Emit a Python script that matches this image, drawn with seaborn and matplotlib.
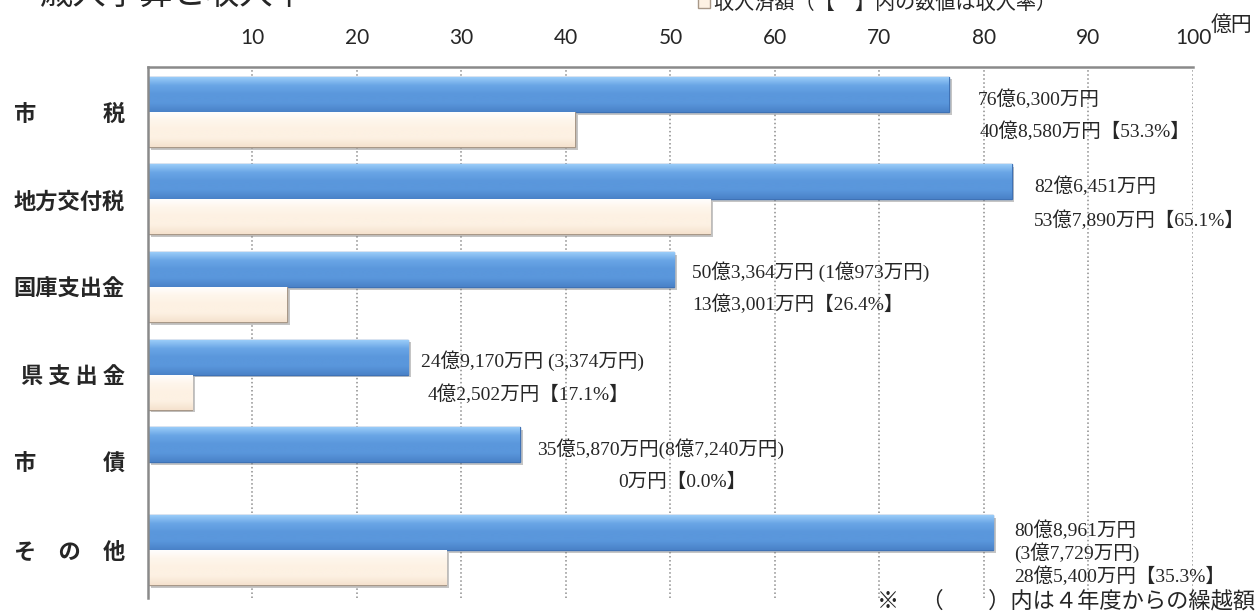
import matplotlib.pyplot as plt
from matplotlib.patches import Patch
from matplotlib.colors import LinearSegmentedColormap
import matplotlib.patheffects as pe
import seaborn as sns
import pandas as pd
import numpy as np

# 歳入予算と収入率（単位：億円）
categories = ["市　　　税", "地方交付税", "国庫支出金", "県 支 出 金", "市　　　債", "そ　の　他"]
budget = [76.63, 82.6451, 50.3364, 24.917, 35.587, 80.8961]
received = [40.858, 53.789, 13.3001, 4.2502, 0.0, 28.54]
series_names = ["予算額", "収入済額"]

budget_labels = ["76億6,300万円", "82億6,451万円", "50億3,364万円 (1億973万円)",
                 "24億9,170万円 (3,374万円)", "35億5,870万円(8億7,240万円)",
                 "80億8,961万円\n(3億7,729万円)"]
received_labels = ["40億8,580万円【53.3%】", "53億7,890万円【65.1%】", "13億3,001万円【26.4%】",
                   "4億2,502万円【17.1%】", "0万円【0.0%】", "28億5,400万円【35.3%】"]
x_ticks = [10, 20, 30, 40, 50, 60, 70, 80, 90, 100]

# label placement (x in 億円, y offset from category centre)
lab1_x = [79.4, 84.8, 52.1, 26.1, 37.2, 82.9]
lab1_dy = [-0.14, -0.15, -0.17, -0.16, -0.15, -0.09]
lab2_x = [79.6, 84.8, 52.1, 26.8, 45.0, 82.9]
lab2_dy = [0.22, 0.24, 0.20, 0.23, 0.23, 0.30]

blue = "#5A97DC"
cream = "#FDF1E3"
blue_grad = LinearSegmentedColormap.from_list("b", ["#9FD0FA", "#6AA6E6", "#5A97DC", "#5A97DC", "#4A82C8"])
cream_grad = LinearSegmentedColormap.from_list("c", ["#FFFFFF", "#FEF6EC", "#FDF1E3", "#FDF1E3", "#F5E2CE"])

df = pd.DataFrame({
    "category": categories * 2,
    "series": [series_names[0]] * 6 + [series_names[1]] * 6,
    "value": budget + received,
})

sns.set_style("white")
plt.rcParams["font.family"] = ["Noto Sans CJK JP", "DejaVu Sans"]
serif_cjk = ["Liberation Serif", "Noto Sans CJK JP"]

fig = plt.figure(figsize=(12.58, 6.15), dpi=100)
ax = fig.add_axes([0.1176, 0.0276, 0.8307, 0.8634])

sns.barplot(data=df, y="category", x="value", hue="series", orient="h",
            palette={series_names[0]: blue, series_names[1]: cream},
            width=0.8, saturation=1, legend=False, ax=ax)

n = len(categories)
grad = np.linspace(0, 1, 64).reshape(-1, 1)
for i, p in enumerate(list(ax.patches[:2 * n])):
    if p.get_width() == 0:
        p.set_linewidth(0)
        continue
    if i < n:
        p.set_edgecolor("#3F72B5")
        cmap = blue_grad
    else:
        p.set_edgecolor("#A89888")
        cmap = cream_grad
    p.set_linewidth(1.0)
    p.set_path_effects([pe.SimplePatchShadow(offset=(2, -2), shadow_rgbFace="#808080", alpha=0.45),
                        pe.Normal()])
    x0, y0, w, h = p.get_x(), p.get_y(), p.get_width(), p.get_height()
    im = ax.imshow(grad, extent=[x0, x0 + w, y0 + h, y0], aspect="auto",
                   cmap=cmap, zorder=p.get_zorder() + 0.1, interpolation="bilinear")
    im.set_clip_path(p)

for i in range(n):
    ax.text(lab1_x[i], i + lab1_dy[i], budget_labels[i], fontsize=14,
            family=serif_cjk, va="center", ha="left", linespacing=1.1)
    ax.text(lab2_x[i], i + lab2_dy[i], received_labels[i], fontsize=14,
            family=serif_cjk, va="center", ha="left")

ax.set_xlim(0, 100)
ax.set_ylim(5.55, -0.51)
ax.set_xticks(x_ticks)
ax.xaxis.tick_top()
ax.tick_params(axis="x", length=0, pad=14, labelsize=15)
ax.tick_params(axis="y", length=0, pad=16.5, labelsize=16)
for lbl in ax.get_xticklabels():
    lbl.set_family(["Lato", "DejaVu Sans"])
for lbl in ax.get_yticklabels():
    lbl.set_fontweight("bold")
ax.set_xlabel("")
ax.set_ylabel("")

ax.xaxis.grid(True, linestyle=":", color="#8C8C8C", linewidth=1.1)
ax.set_axisbelow(True)
for side in ["right", "bottom"]:
    ax.spines[side].set_visible(False)
for side in ["top", "left"]:
    ax.spines[side].set_color("#8A8A8A")
    ax.spines[side].set_linewidth(1.8)

fig.text(1211 / 1258, 1 - 25 / 615, "億円", fontsize=15, va="center", ha="left")

# partial legend / title as they appear at the top of the page
ax.legend(handles=[Patch(facecolor=cream, edgecolor="#A89888")],
          labels=["収入済額（【　】内の数値は収入率）"],
          loc="center left", bbox_to_anchor=(698 / 1258, 1 - 3 / 615),
          bbox_transform=fig.transFigure, frameon=False, fontsize=14.5,
          handlelength=0.6, handleheight=0.6, handletextpad=0.2,
          borderpad=0, borderaxespad=0)
fig.text(40 / 1258, 1 + 6 / 615, "歳入予算と収入率", fontsize=24, va="center", ha="left")

fig.text(1255 / 1258, 1 - 602 / 615, "※　（　　）内は４年度からの繰越額",
         fontsize=16, va="center", ha="right", family=serif_cjk)

plt.savefig("out.png", dpi=100)
